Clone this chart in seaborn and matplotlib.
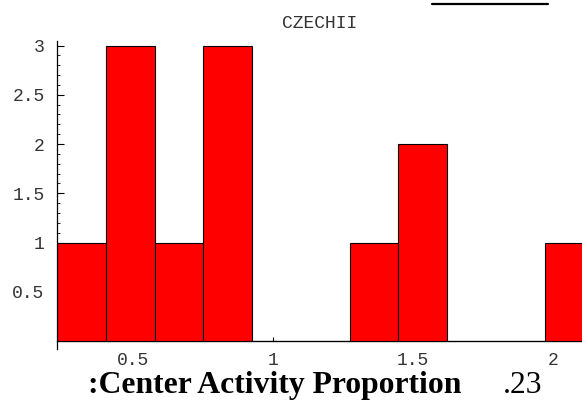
import numpy as np
import pandas as pd
import seaborn as sns
import matplotlib
matplotlib.use("Agg")
import matplotlib.pyplot as plt
from matplotlib.lines import Line2D
from matplotlib.ticker import MultipleLocator

# Histogram
bin_edges = [0.228, 0.402, 0.577, 0.751, 0.925, 1.100, 1.274, 1.448, 1.623, 1.797, 1.971, 2.146]
counts = [1, 3, 1, 3, 0, 0, 1, 2, 0, 0, 1]
title = "CZECHII"
caption_left = ":Center Activity Proportion"
caption_right = ".23"

sns.set_style("white")
plt.rcParams["font.family"] = ["Liberation Mono", "DejaVu Sans"]

edges = np.array(bin_edges)
df = pd.DataFrame({
    "proportion": (edges[:-1] + edges[1:]) / 2,
    "count": counts,
})

fig = plt.figure(figsize=(5.82, 4.0), dpi=100)
ax = fig.add_axes([57 / 582, 51 / 400, 525 / 582, 308.4 / 400])

sns.histplot(
    data=df,
    x="proportion",
    weights="count",
    bins=list(bin_edges),
    color="#ff0000",
    alpha=1,
    edgecolor="black",
    linewidth=0.8,
    ax=ax,
)

ax.set_xlim(0.228, 2.104)
ax.set_ylim(-0.08, 3.05)
ax.set_xlabel("")
ax.set_ylabel("")

for s in ["top", "right"]:
    ax.spines[s].set_visible(False)
ax.spines["bottom"].set_position(("data", 0))
ax.spines["left"].set_color("black")
ax.spines["bottom"].set_color("black")
ax.spines["left"].set_linewidth(0.9)
ax.spines["bottom"].set_linewidth(0.9)
ax.spines["bottom"].set_zorder(0.5)

ax.set_xticks([0.5, 1, 1.5, 2])
ax.set_xticklabels(["0.5", "1", "1.5", "2"])
ax.set_yticks([0.5, 1, 1.5, 2, 2.5, 3])
ax.set_yticklabels(["0.5", "1", "1.5", "2", "2.5", "3"])
ax.yaxis.set_minor_locator(MultipleLocator(0.1))
ax.xaxis.set_minor_locator(MultipleLocator(0.1))

ax.tick_params(left=True, bottom=True, which="both")
ax.tick_params(axis="both", which="major", direction="in", length=5, width=0.8,
               labelsize=13, labelcolor="#333333", color="black")
ax.tick_params(axis="both", which="minor", direction="in", length=2.5, width=0.6, color="black")
ax.tick_params(axis="x", which="major", pad=7.5, length=3)
ax.tick_params(axis="x", which="minor", length=0)
ax.tick_params(axis="y", which="major", pad=9)

ax.set_title(title, fontsize=13, color="#333333", pad=9)

fig.text(88 / 582, 7 / 400, caption_left, family="Liberation Serif", fontweight="bold",
         fontsize=22.8, color="black", ha="left", va="baseline")
fig.text(503 / 582, 7 / 400, caption_right, family="Liberation Serif",
         fontsize=22.8, color="black", ha="left", va="baseline")

fig.add_artist(Line2D([432 / 582, 548 / 582], [396.5 / 400, 396.5 / 400],
                      color="black", linewidth=1.6, transform=fig.transFigure))

plt.savefig("out.png", dpi=100)
